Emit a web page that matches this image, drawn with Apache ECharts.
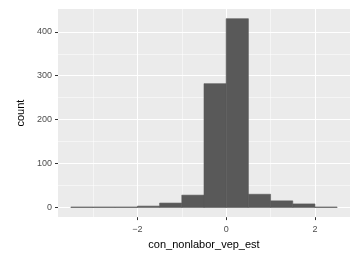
<!DOCTYPE html>
<html>
<head>
<meta charset="utf-8">
<script src="https://cdn.jsdelivr.net/npm/echarts@6/dist/echarts.min.js"></script>
<style>
html,body{margin:0;padding:0;background:#fff;}
#chart{width:351px;height:255px;}
</style>
</head>
<body>
<div id="chart"></div>
<script>
// histogram bins (width 0.5) and counts
var binStart = [-3.5, -3, -2.5, -2, -1.5, -1, -0.5, 0, 0.5, 1, 1.5, 2];
var binEnd = [-3, -2.5, -2, -1.5, -1, -0.5, 0, 0.5, 1, 1.5, 2, 2.5];
var counts = [1, 1, 1, 3, 10, 28, 282, 430, 30, 15, 8, 1];

var xTicks = [-2, 0, 2];
var xMinor = [-3, -1, 1];
var yTicks = [0, 100, 200, 300, 400];
var yMinor = [50, 150, 250, 350];

var bins = [];
for (var i = 0; i < counts.length; i++) {
    bins.push([binStart[i], binEnd[i], counts[i]]);
}

function gridLines(vals, key, w) {
    return vals.map(function (v) {
        var o = {lineStyle: {color: '#ffffff', width: w, type: 'solid'}};
        o[key] = v;
        return o;
    });
}

var option = {
    animation: false,
    grid: {
        left: 58, right: 1, top: 9, bottom: 32,
        show: true, backgroundColor: '#EBEBEB', borderWidth: 0
    },
    xAxis: {
        type: 'value',
        min: -3.79, max: 2.79,
        name: 'con_nonlabor_vep_est',
        nameLocation: 'middle',
        nameGap: 21,
        nameTextStyle: {color: '#000', fontSize: 11, fontFamily: 'Liberation Sans'},
        axisLine: {show: false, onZero: false},
        axisTick: {show: true, length: 3, lineStyle: {color: '#333'}, customValues: xTicks},
        axisLabel: {
            color: '#4D4D4D', fontSize: 9, margin: 8, fontFamily: 'Liberation Sans',
            customValues: xTicks,
            formatter: function (v) { return v < 0 ? '\u2212' + (-v) : '' + v; }
        },
        splitLine: {show: false}
    },
    yAxis: {
        type: 'value',
        min: -22, max: 452,
        name: 'count',
        nameLocation: 'middle',
        nameGap: 28,
        nameRotate: 90,
        nameTextStyle: {color: '#000', fontSize: 11, fontFamily: 'Liberation Sans'},
        axisLine: {show: false, onZero: false},
        axisTick: {show: true, length: 3, lineStyle: {color: '#333'}, customValues: yTicks},
        axisLabel: {
            color: '#4D4D4D', fontSize: 9, margin: 6, fontFamily: 'Liberation Sans',
            customValues: yTicks
        },
        splitLine: {show: false}
    },
    series: [
        {
            type: 'line',
            data: [],
            z: 0,
            silent: true,
            markLine: {
                silent: true,
                symbol: 'none',
                label: {show: false},
                data: [].concat(
                    gridLines(xMinor, 'xAxis', 0.5),
                    gridLines(yMinor, 'yAxis', 0.5),
                    gridLines(xTicks, 'xAxis', 1.1),
                    gridLines(yTicks, 'yAxis', 1.1)
                )
            }
        },
        {
            type: 'custom',
            zlevel: 1,
            data: bins,
            encode: {x: [0, 1], y: 2},
            renderItem: function (params, api) {
                var p0 = api.coord([api.value(0), api.value(2)]);
                var p1 = api.coord([api.value(1), 0]);
                return {
                    type: 'rect',
                    shape: {x: p0[0], y: p0[1], width: p1[0] - p0[0], height: p1[1] - p0[1]},
                    style: {fill: '#595959', stroke: '#595959', lineWidth: 0.6}
                };
            }
        }
    ]
};

var myChart = echarts.init(document.getElementById('chart'));
myChart.setOption(option);
</script>
</body>
</html>
